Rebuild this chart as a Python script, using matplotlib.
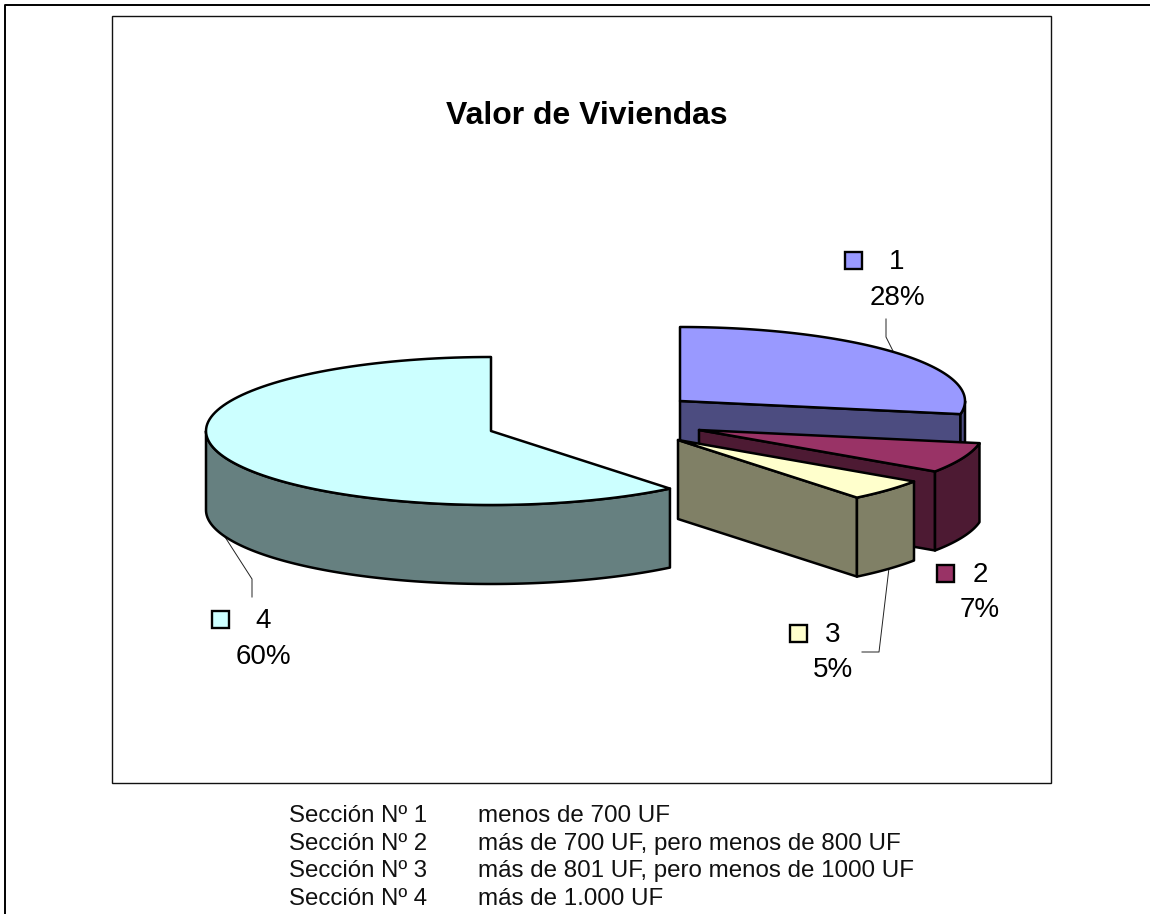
import numpy as np
import matplotlib
matplotlib.use('Agg')
import matplotlib.pyplot as plt
from matplotlib.patches import Polygon, Rectangle

plt.rcParams['font.family'] = ['Liberation Sans', 'DejaVu Sans']

# data
sections = ['1', '2', '3', '4']
values = [27.7, 6.6, 4.7, 60.5]
pct_labels = ['28%', '7%', '5%', '60%']
footer_names = ['Sección Nº 1', 'Sección Nº 2', 'Sección Nº 3', 'Sección Nº 4']
footer_text = ['menos de 700 UF', 'más de 700 UF, pero menos de 800 UF',
               'más de 801 UF, pero menos de 1000 UF', 'más de 1.000 UF']

top_colors = ['#9999FF', '#993366', '#FFFFCC', '#CCFFFF']
side_colors = ['#4C4C80', '#4D1A33', '#808066', '#668080']

# apex of each exploded slice, in pixels
centers = [(680, 401), (699, 430), (678, 440), (491, 431)]
rx, ry, depth = 285, 74, 79

fig = plt.figure(figsize=(11.5, 9.14), dpi=100)
ax = fig.add_axes([0, 0, 1, 1])
ax.set_xlim(0, 1150)
ax.set_ylim(914, 0)
ax.axis('off')


def rim(c, a0, a1, n=120):
    # clockwise from 12 o'clock, degrees
    t = np.radians(np.linspace(a0, a1, n))
    return np.column_stack([c[0] + rx * np.sin(t), c[1] - ry * np.cos(t)])


def face(pts, color, z):
    ax.add_patch(Polygon(pts, closed=True, fc=color, ec='black', lw=1.8,
                         joinstyle='round', zorder=z))


# frames
ax.plot([5, 5, 1150], [914, 5, 5], color='black', lw=1.4, zorder=1)
ax.add_patch(Rectangle((112, 16), 939, 767, fc='white', ec='#111111', lw=1.0, zorder=1))

# slices, back to front
edges = np.cumsum([0] + values) / sum(values) * 360
order = [0, 3, 1, 2]
for z, i in enumerate(order):
    c = centers[i]
    a0, a1 = edges[i], edges[i + 1]
    base = 10 + z * 3
    down = np.array([0, depth])
    # cut face on the end side, only seen when it faces us
    end = rim(c, a1, a1, 1)[0]
    if a1 < 180:
        face([c, end, end + down, np.array(c) + down], side_colors[i], base)
    # outer wall, only the front half
    v0, v1 = max(a0, 90), min(a1, 270)
    if v1 > v0:
        arc = rim(c, v0, v1)
        face(np.vstack([arc, (arc + down)[::-1]]), side_colors[i], base + 1)
    face(np.vstack([[c], rim(c, a0, a1)]), top_colors[i], base + 2)

ax.text(586.5, 124, 'Valor de Viviendas', fontsize=23, fontweight='bold',
        ha='center', va='baseline', zorder=40)

# leader lines
leaders = [
    ([886, 886, 893], [319, 337, 351]),
    ([252, 252, 225], [597, 579, 537]),
    ([862, 879, 889], [652, 652, 568]),
]
for lx, ly in leaders:
    ax.plot(lx, ly, color='#222222', lw=0.7, zorder=5)

# legend key + number + percent for each slice
label_pos = [(897, 269, 305), (980, 582.5, 617), (833, 642.5, 677), (263, 628, 664)]
key_pos = [(845, 252), (937, 565), (790, 625), (212, 611)]
for i in range(4):
    x, y1, y2 = label_pos[i]
    ax.add_patch(Rectangle(key_pos[i], 17, 17, fc=top_colors[i], ec='black', lw=1.7, zorder=30))
    ax.text(x, y1, sections[i], fontsize=20, ha='center', va='baseline', zorder=30)
    ax.text(x, y2, pct_labels[i], fontsize=20, ha='center', va='baseline', zorder=30)

# notes under the chart
for y, name, txt in zip([822, 850, 877, 905], footer_names, footer_text):
    ax.text(289, y, name, fontsize=17.3, ha='left', va='baseline', color='#111111')
    ax.text(478, y, txt, fontsize=17.4, ha='left', va='baseline', color='#111111')

fig.savefig('out.png', dpi=100)
